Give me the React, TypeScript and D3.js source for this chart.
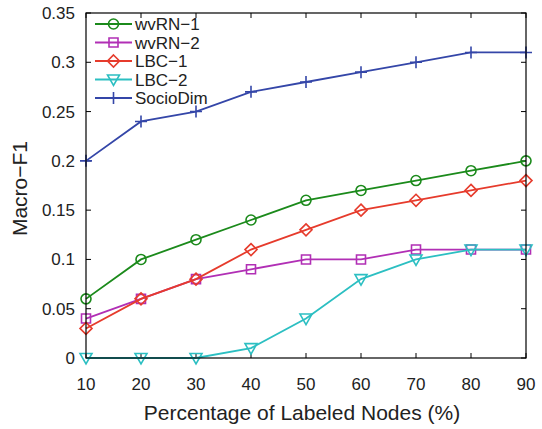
import React, { useEffect, useRef } from 'react'
import * as d3 from 'd3'

const xValues = [10, 20, 30, 40, 50, 60, 70, 80, 90]
const wvrn1 = [0.06, 0.1, 0.12, 0.14, 0.16, 0.17, 0.18, 0.19, 0.2]
const wvrn2 = [0.04, 0.06, 0.08, 0.09, 0.1, 0.1, 0.11, 0.11, 0.11]
const lbc1 = [0.03, 0.06, 0.08, 0.11, 0.13, 0.15, 0.16, 0.17, 0.18]
const lbc2 = [0, 0, 0, 0.01, 0.04, 0.08, 0.1, 0.11, 0.11]
const socioDim = [0.2, 0.24, 0.25, 0.27, 0.28, 0.29, 0.3, 0.31, 0.31]
const yTicks = [0, 0.05, 0.1, 0.15, 0.2, 0.25, 0.3, 0.35]
const yTickLabels = ['0', '0.05', '0.1', '0.15', '0.2', '0.25', '0.3', '0.35']

type Marker = 'circle' | 'square' | 'diamond' | 'triangleDown' | 'plus'

const series: { name: string; values: number[]; color: string; marker: Marker }[] = [
  { name: 'wvRN\u22121', values: wvrn1, color: '#1b8a1b', marker: 'circle' },
  { name: 'wvRN\u22122', values: wvrn2, color: '#b12fb5', marker: 'square' },
  { name: 'LBC\u22121', values: lbc1, color: '#e63b2c', marker: 'diamond' },
  { name: 'LBC\u22122', values: lbc2, color: '#2cbfc2', marker: 'triangleDown' },
  { name: 'SocioDim', values: socioDim, color: '#3446a8', marker: 'plus' }
]

const markerPath = (m: Marker): string => {
  switch (m) {
    case 'circle':
      return 'M5,0A5,5 0 1,1 -5,0A5,5 0 1,1 5,0Z'
    case 'square':
      return 'M-4.5,-4.5L4.5,-4.5L4.5,4.5L-4.5,4.5Z'
    case 'diamond':
      return 'M0,-6L6,0L0,6L-6,0Z'
    case 'triangleDown':
      return 'M-6,-4.5L6,-4.5L0,6Z'
    default:
      return 'M-6,0L6,0M0,-6L0,6'
  }
}

export default function App() {
  const ref = useRef<SVGSVGElement | null>(null)

  useEffect(() => {
    if (!ref.current) return
    const width = 542
    const height = 429
    const margin = { top: 13, right: 16, bottom: 71, left: 86 }
    const chartWidth = width - margin.left - margin.right
    const chartHeight = height - margin.top - margin.bottom

    const svg = d3.select(ref.current)
    svg.selectAll('*').remove()
    svg.attr('width', width).attr('height', height).style('font-family', '"Liberation Sans", Arial, sans-serif')

    const x = d3.scaleLinear().domain([10, 90]).range([0, chartWidth])
    const y = d3.scaleLinear().domain([0, 0.35]).range([chartHeight, 0])

    const g = svg.append('g').attr('transform', `translate(${margin.left},${margin.top})`)

    // ticks point inward on all four sides
    const tickLen = 5
    xValues.forEach((v) => {
      g.append('line').attr('x1', x(v)).attr('x2', x(v)).attr('y1', chartHeight).attr('y2', chartHeight - tickLen).attr('stroke', '#000')
      g.append('line').attr('x1', x(v)).attr('x2', x(v)).attr('y1', 0).attr('y2', tickLen).attr('stroke', '#000')
      g.append('text')
        .attr('x', x(v))
        .attr('y', chartHeight + 32)
        .attr('text-anchor', 'middle')
        .attr('font-size', 17)
        .attr('fill', '#222')
        .text(String(v))
    })
    yTicks.forEach((v, i) => {
      g.append('line').attr('x1', 0).attr('x2', tickLen).attr('y1', y(v)).attr('y2', y(v)).attr('stroke', '#000')
      g.append('line').attr('x1', chartWidth).attr('x2', chartWidth - tickLen).attr('y1', y(v)).attr('y2', y(v)).attr('stroke', '#000')
      g.append('text')
        .attr('x', -11)
        .attr('y', y(v) + 6)
        .attr('text-anchor', 'end')
        .attr('font-size', 17)
        .attr('fill', '#222')
        .text(yTickLabels[i])
    })

    const line = d3
      .line<number>()
      .x((_, i) => x(xValues[i]))
      .y((d) => y(d))

    series.forEach((s) => {
      g.append('path').attr('d', line(s.values)).attr('fill', 'none').attr('stroke', s.color).attr('stroke-width', 1.8)
      g.selectAll(null)
        .data(s.values)
        .enter()
        .append('path')
        .attr('transform', (d, i) => `translate(${x(xValues[i])},${y(d)})`)
        .attr('d', markerPath(s.marker))
        .attr('fill', 'none')
        .attr('stroke', s.color)
        .attr('stroke-width', 1.6)
    })

    g.append('rect')
      .attr('width', chartWidth)
      .attr('height', chartHeight)
      .attr('fill', 'none')
      .attr('stroke', '#000')
      .attr('stroke-width', 1.2)

    // legend
    const legend = g.append('g').attr('transform', 'translate(9,11)')
    series.forEach((s, i) => {
      const row = legend.append('g').attr('transform', `translate(0,${i * 18.5})`)
      row.append('line').attr('x1', 0).attr('x2', 37).attr('stroke', s.color).attr('stroke-width', 1.8)
      row.append('path').attr('transform', 'translate(18.5,0)').attr('d', markerPath(s.marker)).attr('fill', 'none').attr('stroke', s.color).attr('stroke-width', 1.6)
      row.append('text').attr('x', 40).attr('y', 6).attr('font-size', 17).attr('fill', '#222').text(s.name)
    })

    svg
      .append('text')
      .attr('x', margin.left + chartWidth / 2 - 4)
      .attr('y', 420)
      .attr('text-anchor', 'middle')
      .attr('font-size', 21)
      .attr('fill', '#222')
      .text('Percentage of Labeled Nodes (%)')

    svg
      .append('text')
      .attr('transform', `translate(27,${margin.top + chartHeight / 2 + 3}) rotate(-90)`)
      .attr('text-anchor', 'middle')
      .attr('font-size', 21)
      .attr('fill', '#222')
      .text('Macro\u2212F1')
  }, [])

  return <svg ref={ref} style={{ position: 'absolute', left: 0, top: 0 }} />
}
